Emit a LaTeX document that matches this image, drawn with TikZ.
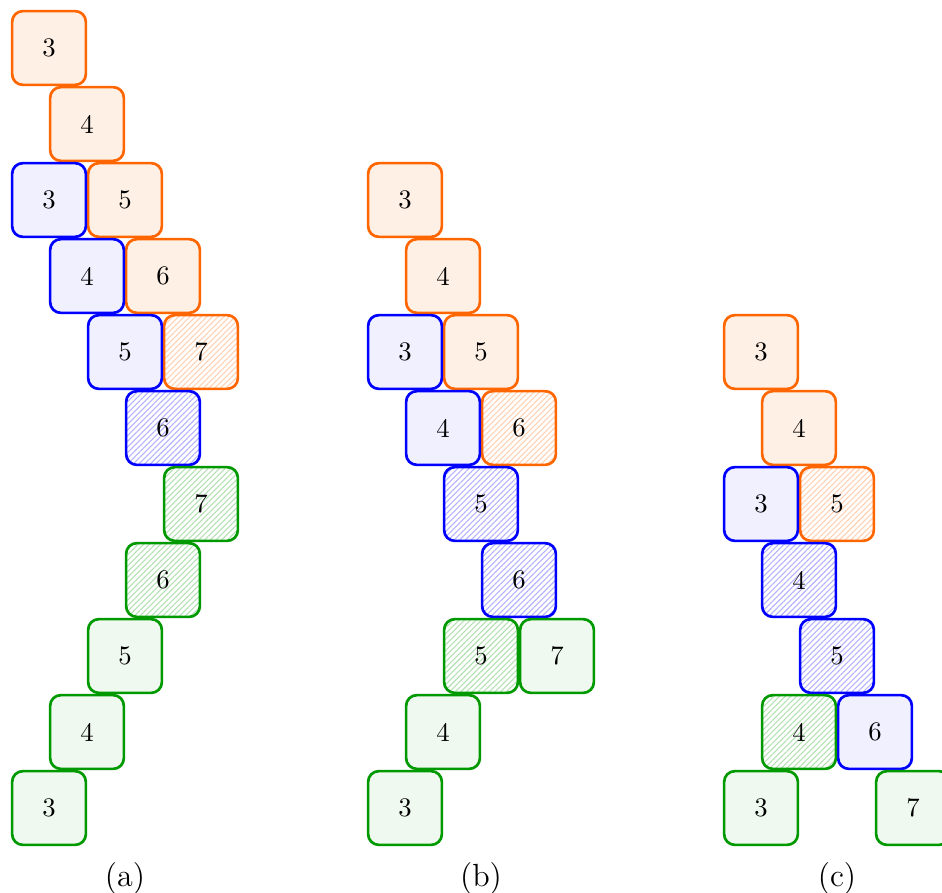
\documentclass[tikz,border=0pt]{standalone}
\usetikzlibrary{patterns.meta}
\definecolor{cOr}{RGB}{255,102,0}
\definecolor{cBl}{RGB}{0,0,255}
\definecolor{cGr}{RGB}{0,153,0}
\begin{document}
\begin{tikzpicture}[x=0.013158cm,y=-0.013158cm,
  cell/.style={draw, line width=1pt, rounded corners=4pt, minimum size=0.97cm, inner sep=0pt},
  ob/.style={cell, draw=cOr, fill=cOr!10},
  bb/.style={cell, draw=cBl, fill=cBl!6},
  gb/.style={cell, draw=cGr, fill=cGr!6},
  hatch/.style={pattern={Lines[angle=45,distance=1.5pt,line width=0.4pt]}},
  oh/.style={cell, draw=cOr, hatch, pattern color=cOr!30},
  bh/.style={cell, draw=cBl, hatch, pattern color=cBl!30},
  gh/.style={cell, draw=cGr, hatch, pattern color=cGr!30},
  sublabel/.style={inner sep=0pt, font=\large}
]
\useasboundingbox (0,0) rectangle (942,892);
% panel (a)
\node[ob] (aO3) at (49,48) {3};
\node[ob] (aO4) at (87,124) {4};
\node[ob] (aO5) at (125,200) {5};
\node[ob] (aO6) at (163,276) {6};
\node[oh] (aO7) at (201,352) {7};
\node[bb] (aB3) at (49,200) {3};
\node[bb] (aB4) at (87,276) {4};
\node[bb] (aB5) at (125,352) {5};
\node[bh] (aB6) at (163,428) {6};
\node[gh] (aG7) at (201,504) {7};
\node[gh] (aG6) at (163,580) {6};
\node[gb] (aG5) at (125,656) {5};
\node[gb] (aG4) at (87,732) {4};
\node[gb] (aG3) at (49,808) {3};
\node[sublabel] (capa) at (125,878) {(a)};
% panel (b)
\node[ob] (bO3) at (405,200) {3};
\node[ob] (bO4) at (443,276) {4};
\node[ob] (bO5) at (481,352) {5};
\node[oh] (bO6) at (519,428) {6};
\node[bb] (bB3) at (405,352) {3};
\node[bb] (bB4) at (443,428) {4};
\node[bh] (bB5) at (481,504) {5};
\node[bh] (bB6) at (519,580) {6};
\node[gh] (bG5) at (481,656) {5};
\node[gb] (bG7) at (557,656) {7};
\node[gb] (bG4) at (443,732) {4};
\node[gb] (bG3) at (405,808) {3};
\node[sublabel] (capb) at (481,878) {(b)};
% panel (c)
\node[ob] (cO3) at (761,352) {3};
\node[ob] (cO4) at (799,428) {4};
\node[oh] (cO5) at (837,504) {5};
\node[bb] (cB3) at (761,504) {3};
\node[bh] (cB4) at (799,580) {4};
\node[bh] (cB5) at (837,656) {5};
\node[bb] (cB6) at (875,732) {6};
\node[gh] (cG4) at (799,732) {4};
\node[gb] (cG3) at (761,808) {3};
\node[gb] (cG7) at (913,808) {7};
\node[sublabel] (capc) at (837,878) {(c)};
\end{tikzpicture}
\end{document}
